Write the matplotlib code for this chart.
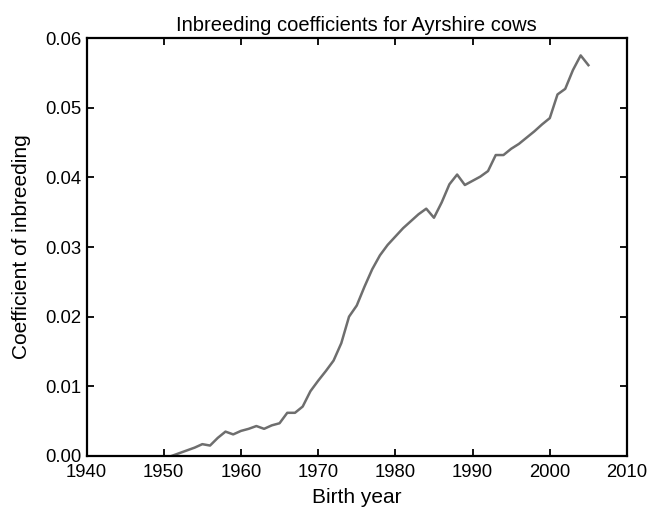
import matplotlib
matplotlib.use('Agg')
import matplotlib.pyplot as plt

plt.rcParams['font.family'] = ['Liberation Sans', 'DejaVu Sans']

years = list(range(1951, 2006))
inbreeding = [
    0.0000, 0.0004, 0.0008, 0.0012, 0.0017, 0.0015, 0.0026, 0.0035, 0.0031, 0.0036,
    0.0039, 0.0043, 0.0039, 0.0044, 0.0047, 0.0062, 0.0062, 0.0071, 0.0093, 0.0108,
    0.0122, 0.0137, 0.0162, 0.0200, 0.0216, 0.0243, 0.0268, 0.0288, 0.0303, 0.0315,
    0.0327, 0.0337, 0.0347, 0.0355, 0.0342, 0.0364, 0.0390, 0.0404, 0.0389, 0.0395,
    0.0401, 0.0409, 0.0432, 0.0432, 0.0441, 0.0448, 0.0457, 0.0466, 0.0476, 0.0485,
    0.0519, 0.0527, 0.0554, 0.0575, 0.0561,
]
x_ticks = [1940, 1950, 1960, 1970, 1980, 1990, 2000, 2010]
y_ticks = [0.00, 0.01, 0.02, 0.03, 0.04, 0.05, 0.06]

fig = plt.figure(figsize=(6.47, 5.11), dpi=100)
ax = fig.add_axes([86.5 / 647, 1 - 456 / 511, (627 - 86.5) / 647, (456 - 38) / 511])

ax.plot(years, inbreeding, color='#6e6e6e', linewidth=1.8)

ax.set_xlim(1940, 2010)
ax.set_ylim(0, 0.06)
ax.set_xticks(x_ticks)
ax.set_yticks(y_ticks)
ax.set_yticklabels([f'{v:.2f}' for v in y_ticks])
ax.tick_params(direction='in', top=True, right=True, length=5, width=1.3,
               labelsize=13.3)
ax.tick_params(axis='x', pad=6)
ax.tick_params(axis='y', pad=3.5)
for s in ax.spines.values():
    s.set_linewidth(1.6)

ax.set_title('Inbreeding coefficients for Ayrshire cows', fontsize=14.5, pad=5)
ax.set_xlabel('Birth year', fontsize=15, labelpad=5)
ax.set_ylabel('Coefficient of inbreeding', fontsize=15, labelpad=10)

fig.savefig('out.png', dpi=100)
